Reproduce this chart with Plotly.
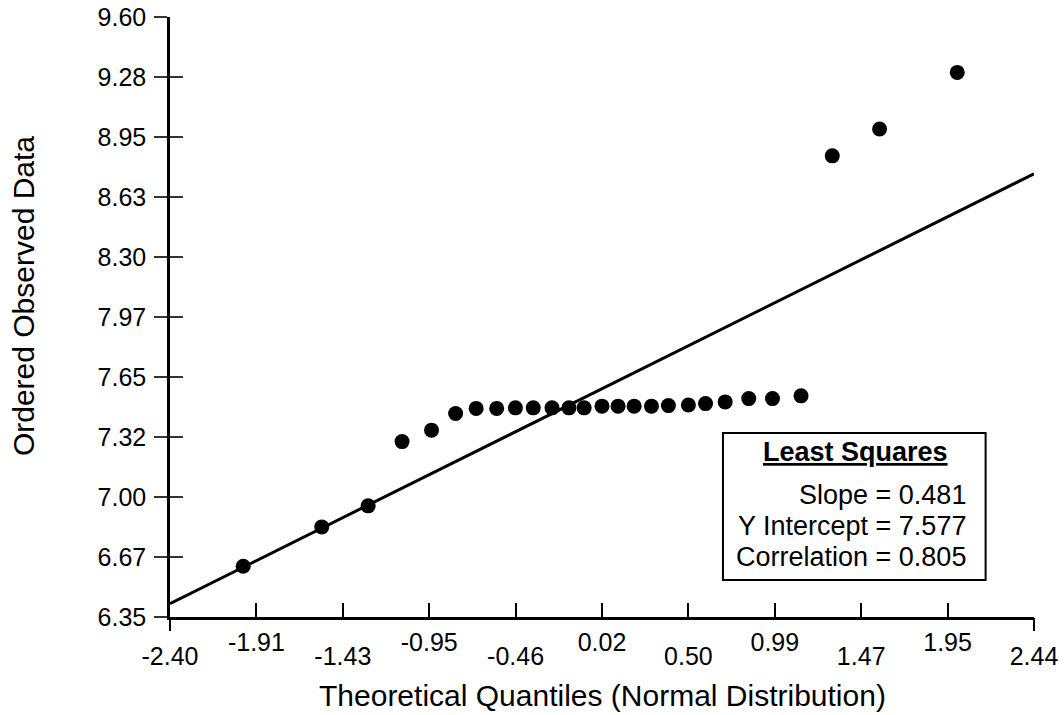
import plotly.graph_objects as go

# ---- data ----
quantiles = [-1.99, -1.55, -1.29, -1.10, -0.935, -0.80, -0.685, -0.57, -0.465,
             -0.365, -0.26, -0.165, -0.08, 0.02, 0.11, 0.20, 0.297, 0.392,
             0.504, 0.60, 0.71, 0.842, 0.975, 1.135, 1.31, 1.575, 2.01]
observed = [6.625, 6.838, 6.952, 7.300, 7.362, 7.452, 7.480, 7.480, 7.483,
            7.483, 7.483, 7.483, 7.483, 7.492, 7.492, 7.492, 7.492, 7.495,
            7.498, 7.506, 7.515, 7.533, 7.533, 7.548, 8.848, 8.993, 9.300]

slope = 0.481
intercept = 7.577
correlation = 0.805

x_tick_vals = [-2.40, -1.916, -1.432, -0.948, -0.464, 0.02, 0.504, 0.988, 1.472, 1.956, 2.44]
x_tick_text = ["-2.40", "-1.91", "-1.43", "-0.95", "-0.46", "0.02", "0.50", "0.99", "1.47", "1.95", "2.44"]
y_tick_vals = [6.35, 6.675, 7.00, 7.325, 7.65, 7.975, 8.30, 8.625, 8.95, 9.275, 9.60]
y_tick_text = ["6.35", "6.67", "7.00", "7.32", "7.65", "7.97", "8.30", "8.63", "8.95", "9.28", "9.60"]

x_range = [x_tick_vals[0], x_tick_vals[-1]]
y_range = [y_tick_vals[0], y_tick_vals[-1]]

FONT = "Liberation Sans, Arial, sans-serif"

fig = go.Figure()

# regression line across full axis range
fit_x = x_range
fit_y = [intercept + slope * v for v in fit_x]
fig.add_trace(go.Scatter(x=fit_x, y=fit_y, mode="lines",
                         line=dict(color="black", width=3),
                         hoverinfo="skip", showlegend=False))

fig.add_trace(go.Scatter(x=quantiles, y=observed, mode="markers",
                         marker=dict(color="black", size=15, line=dict(width=0)),
                         showlegend=False, cliponaxis=False))

# dummy traces to materialise helper axes
fig.add_trace(go.Scatter(x=[None], y=[None], xaxis="x2", yaxis="y", showlegend=False, hoverinfo="skip"))
fig.add_trace(go.Scatter(x=[None], y=[None], xaxis="x3", yaxis="y", showlegend=False, hoverinfo="skip"))
fig.add_trace(go.Scatter(x=[None], y=[None], xaxis="x", yaxis="y2", showlegend=False, hoverinfo="skip"))

upper_text = [t if i % 2 == 1 else "" for i, t in enumerate(x_tick_text)]
lower_vals = [v for i, v in enumerate(x_tick_vals) if i % 2 == 0]
lower_text = [t for i, t in enumerate(x_tick_text) if i % 2 == 0]
end_vals = [x_tick_vals[0], x_tick_vals[-1]]

tickfont = dict(family=FONT, size=25, color="black")

fig.update_layout(
    template="none",
    width=1064, height=715,
    margin=dict(l=170, r=30, t=17, b=98, autoexpand=False),
    paper_bgcolor="white", plot_bgcolor="white",
    font=dict(family=FONT, color="black"),
    showlegend=False,
    xaxis=dict(range=x_range, tickmode="array", tickvals=x_tick_vals, ticktext=upper_text,
               ticks="inside", ticklen=14, tickwidth=1.5, tickcolor="black",
               showline=True, linewidth=2.5, linecolor="black", automargin=False,
               showgrid=False, zeroline=False, tickfont=tickfont,
               ticklabelstandoff=1),
    xaxis2=dict(range=x_range, overlaying="x", anchor="y", side="bottom",
                tickmode="array", tickvals=lower_vals, ticktext=lower_text, automargin=False,
                ticks="", showline=False, showgrid=False, zeroline=False,
                tickfont=tickfont, ticklabelstandoff=22),
    xaxis3=dict(range=x_range, overlaying="x", anchor="y", side="bottom",
                tickmode="array", tickvals=end_vals, showticklabels=False, automargin=False,
                ticks="outside", ticklen=13, tickwidth=1.5, tickcolor="black",
                showline=False, showgrid=False, zeroline=False),
    yaxis=dict(range=y_range, tickmode="array", tickvals=y_tick_vals, ticktext=y_tick_text,
               ticks="outside", ticklen=13, tickwidth=1.5, tickcolor="#333",
               showline=True, linewidth=2.5, linecolor="black", automargin=False,
               showgrid=False, zeroline=False, tickfont=tickfont,
               ticklabelstandoff=3),
    yaxis2=dict(range=y_range, overlaying="y", anchor="x", side="left",
                tickmode="array", tickvals=y_tick_vals, showticklabels=False, automargin=False,
                ticks="inside", ticklen=13, tickwidth=1.5, tickcolor="#333",
                showline=False, showgrid=False, zeroline=False),
)

# axis titles
fig.add_annotation(text="Theoretical Quantiles (Normal Distribution)",
                   xref="paper", yref="paper", x=0.5, y=-0.131,
                   xanchor="center", yanchor="middle", showarrow=False,
                   font=dict(family=FONT, size=30, color="black"))
fig.add_annotation(text="Ordered Observed Data",
                   xref="paper", yref="paper", x=-0.170, y=0.535, textangle=-90,
                   xanchor="center", yanchor="middle", showarrow=False,
                   font=dict(family=FONT, size=30, color="black"))

# least squares box
fig.add_shape(type="rect", xref="paper", yref="paper",
              x0=0.640, x1=0.944, y0=0.0617, y1=0.3067,
              line=dict(color="black", width=2), fillcolor="white", layer="above")
fig.add_annotation(text="<b><u>Least Squares</u></b>", xref="paper", yref="paper",
                   x=0.793, y=(617 - 452) / 600, xanchor="center", yanchor="middle",
                   showarrow=False, font=dict(family=FONT, size=27, color="black"))
box_lines = [f"Slope = {slope:.3f}", f"Y Intercept = {intercept:.3f}",
             f"Correlation = {correlation:.3f}"]
line_y_px = [495, 526, 557]
for txt, py in zip(box_lines, line_y_px):
    fig.add_annotation(text=txt, xref="paper", yref="paper",
                       x=(968 - 170) / 864, y=(617 - py) / 600,
                       xanchor="right", yanchor="middle", showarrow=False,
                       font=dict(family=FONT, size=27, color="black"))

fig.write_html("out.html")
